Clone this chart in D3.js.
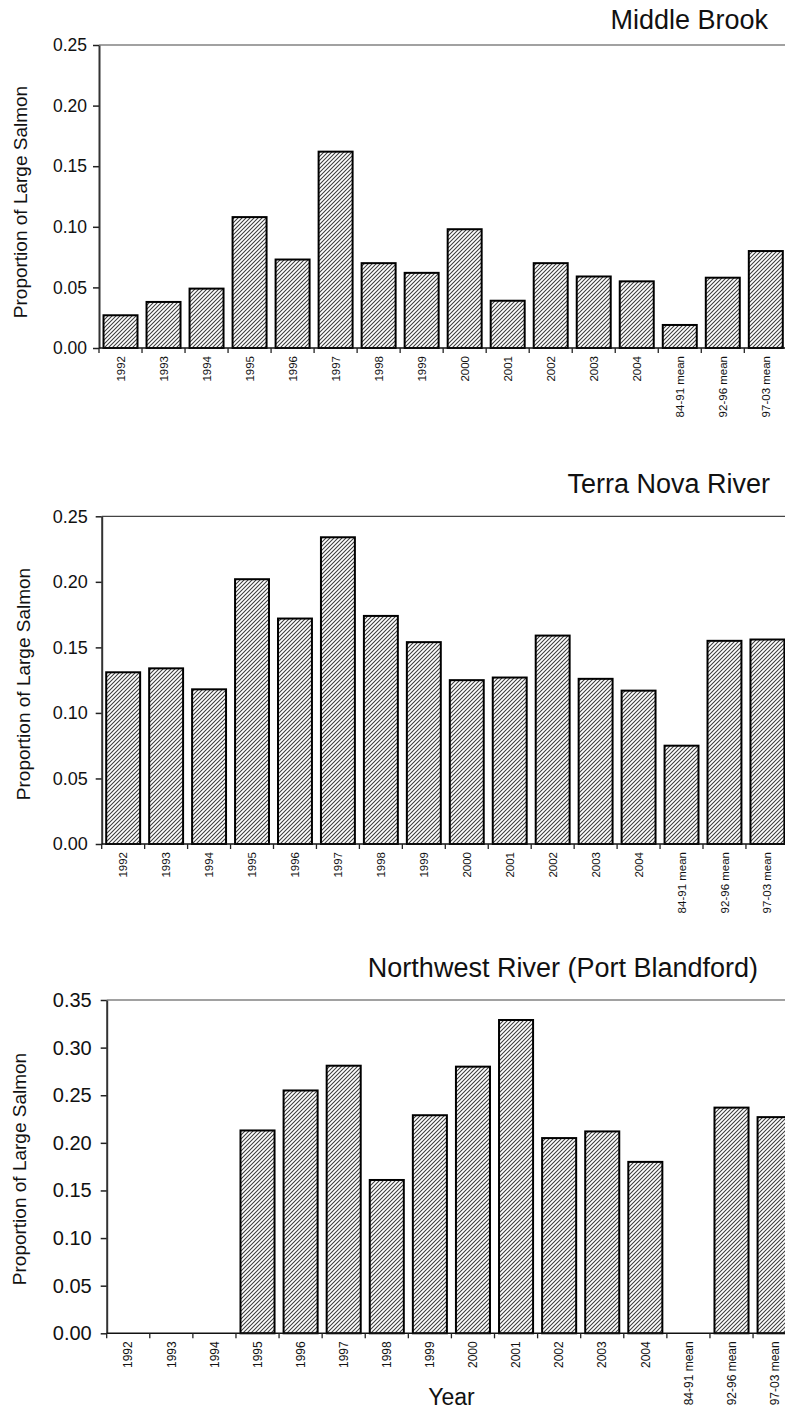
<!DOCTYPE html>
<html>
<head>
<meta charset="utf-8">
<script src="https://cdn.jsdelivr.net/npm/d3@7"></script>
<style>
  html, body { margin: 0; padding: 0; background: #fff; }
  svg { display: block; font-family: "Liberation Sans", Arial, Helvetica, sans-serif; }
</style>
</head>
<body>
<svg id="chart" width="785" height="1410"></svg>
<script>
// Categories shared by all three rivers
const categories = ["1992", "1993", "1994", "1995", "1996", "1997", "1998", "1999",
  "2000", "2001", "2002", "2003", "2004", "84-91 mean", "92-96 mean", "97-03 mean"];

// Proportion of large salmon per river (null = no data)
const middleBrook = [0.027, 0.038, 0.049, 0.108, 0.073, 0.162, 0.070, 0.062,
  0.098, 0.039, 0.070, 0.059, 0.055, 0.019, 0.058, 0.080];
const terraNova = [0.131, 0.134, 0.118, 0.202, 0.172, 0.234, 0.174, 0.154,
  0.125, 0.127, 0.159, 0.126, 0.117, 0.075, 0.155, 0.156];
const northwestRiver = [null, null, null, 0.213, 0.255, 0.281, 0.161, 0.229,
  0.280, 0.329, 0.205, 0.212, 0.180, null, 0.237, 0.227];

// Y tick values
const ticksTo025 = [0, 0.05, 0.10, 0.15, 0.20, 0.25];
const ticksTo035 = [0, 0.05, 0.10, 0.15, 0.20, 0.25, 0.30, 0.35];

const titles = ["Middle Brook", "Terra Nova River", "Northwest River (Port Blandford)"];
const yTitle = "Proportion of Large Salmon";
const xTitle = "Year";

// Layout of each panel
const panels = [
  { title: titles[0], values: middleBrook, ticks: ticksTo025,
    left: 99, top: 45, bottom: 348, step: 43.02,
    titleX: 768, titleY: 29, tickFont: 17.5, tickGap: 6, yLabelX: 27, yLabelY: 202, catFont: 11.5 },
  { title: titles[1], values: terraNova, ticks: ticksTo025,
    left: 101.7, top: 516.3, bottom: 844, step: 42.95,
    titleX: 770, titleY: 493, tickFont: 18, tickGap: 8, yLabelX: 30, yLabelY: 684, catFont: 11.5 },
  { title: titles[2], values: northwestRiver, ticks: ticksTo035,
    left: 106.7, top: 1000, bottom: 1333.3, step: 43.09,
    titleX: 758, titleY: 977, tickFont: 20, tickGap: 9, yLabelX: 26, yLabelY: 1169, catFont: 12,
    xTitleY: 1405 }
];

const svg = d3.select("#chart");

// Diagonal hatch fill for the bars
const defs = svg.append("defs");
const hatch = defs.append("pattern")
  .attr("id", "hatch")
  .attr("patternUnits", "userSpaceOnUse")
  .attr("width", 4).attr("height", 4);
hatch.append("rect").attr("width", 4).attr("height", 4).attr("fill", "#ffffff");
hatch.append("path")
  .attr("d", "M-1,1 L1,-1 M0,4 L4,0 M3,5 L5,3")
  .attr("stroke", "#3c3c3c")
  .attr("stroke-width", 1.05);

panels.forEach(p => {
  const n = categories.length;
  const right = p.left + p.step * n;
  const x = d3.scaleBand().domain(categories).range([p.left, right])
    .paddingInner(0.21).paddingOuter(0.105);
  const y = d3.scaleLinear().domain([0, d3.max(p.ticks)]).range([p.bottom, p.top]);

  const g = svg.append("g");

  // Top frame line
  g.append("line")
    .attr("x1", p.left).attr("x2", right)
    .attr("y1", y(d3.max(p.ticks))).attr("y2", y(d3.max(p.ticks)))
    .attr("stroke", "#444").attr("stroke-width", 1.2);

  // Bars
  const rows = categories.map((c, i) => ({ c, v: p.values[i] })).filter(d => d.v != null);
  g.selectAll("rect.bar").data(rows).join("rect")
    .attr("class", "bar")
    .attr("x", d => x(d.c))
    .attr("y", d => y(d.v))
    .attr("width", x.bandwidth())
    .attr("height", d => y(0) - y(d.v))
    .attr("fill", "url(#hatch)")
    .attr("stroke", "#000")
    .attr("stroke-width", 2);

  // Y axis
  const yAxis = d3.axisLeft(y)
    .tickValues(p.ticks)
    .tickFormat(d3.format(".2f"))
    .tickSize(6).tickSizeOuter(0)
    .tickPadding(p.tickGap);
  const ya = g.append("g").attr("transform", `translate(${p.left},0)`).call(yAxis);
  ya.select(".domain").attr("stroke", "#333").attr("stroke-width", 2);
  ya.selectAll(".tick line").attr("stroke", "#222").attr("stroke-width", 1.5);
  ya.selectAll(".tick text")
    .attr("fill", "#111")
    .style("font-size", p.tickFont + "px")
    .style("font-family", '"Liberation Sans", Arial, sans-serif');

  // X axis baseline with ticks at category boundaries
  g.append("line")
    .attr("x1", p.left).attr("x2", right)
    .attr("y1", y(0)).attr("y2", y(0))
    .attr("stroke", "#111").attr("stroke-width", 1.5);
  const bounds = d3.range(n + 1).map(i => x.range()[0] + i * x.step());
  g.selectAll("line.xtick").data(bounds).join("line")
    .attr("class", "xtick")
    .attr("x1", d => d).attr("x2", d => d)
    .attr("y1", y(0)).attr("y2", y(0) + 5)
    .attr("stroke", "#222").attr("stroke-width", 1.3);

  // Rotated category labels
  g.selectAll("text.cat").data(categories).join("text")
    .attr("class", "cat")
    .attr("transform", d => `translate(${x(d) + x.bandwidth() / 2},${y(0) + 8}) rotate(-90)`)
    .attr("text-anchor", "end")
    .attr("dy", "0.35em")
    .attr("fill", "#111")
    .style("font-size", p.catFont + "px")
    .text(d => d);

  // Panel title
  g.append("text")
    .attr("x", p.titleX).attr("y", p.titleY)
    .attr("text-anchor", "end")
    .attr("fill", "#111")
    .style("font-size", "27px")
    .text(p.title);

  // Y axis title
  g.append("text")
    .attr("transform", `translate(${p.yLabelX},${p.yLabelY}) rotate(-90)`)
    .attr("text-anchor", "middle")
    .attr("fill", "#111")
    .style("font-size", "19px")
    .text(yTitle);

  // X axis title on the last panel
  if (p.xTitleY) {
    g.append("text")
      .attr("x", (p.left + right) / 2).attr("y", p.xTitleY)
      .attr("text-anchor", "middle")
      .attr("fill", "#111")
      .style("font-size", "23px")
      .text(xTitle);
  }
});
</script>
</body>
</html>
